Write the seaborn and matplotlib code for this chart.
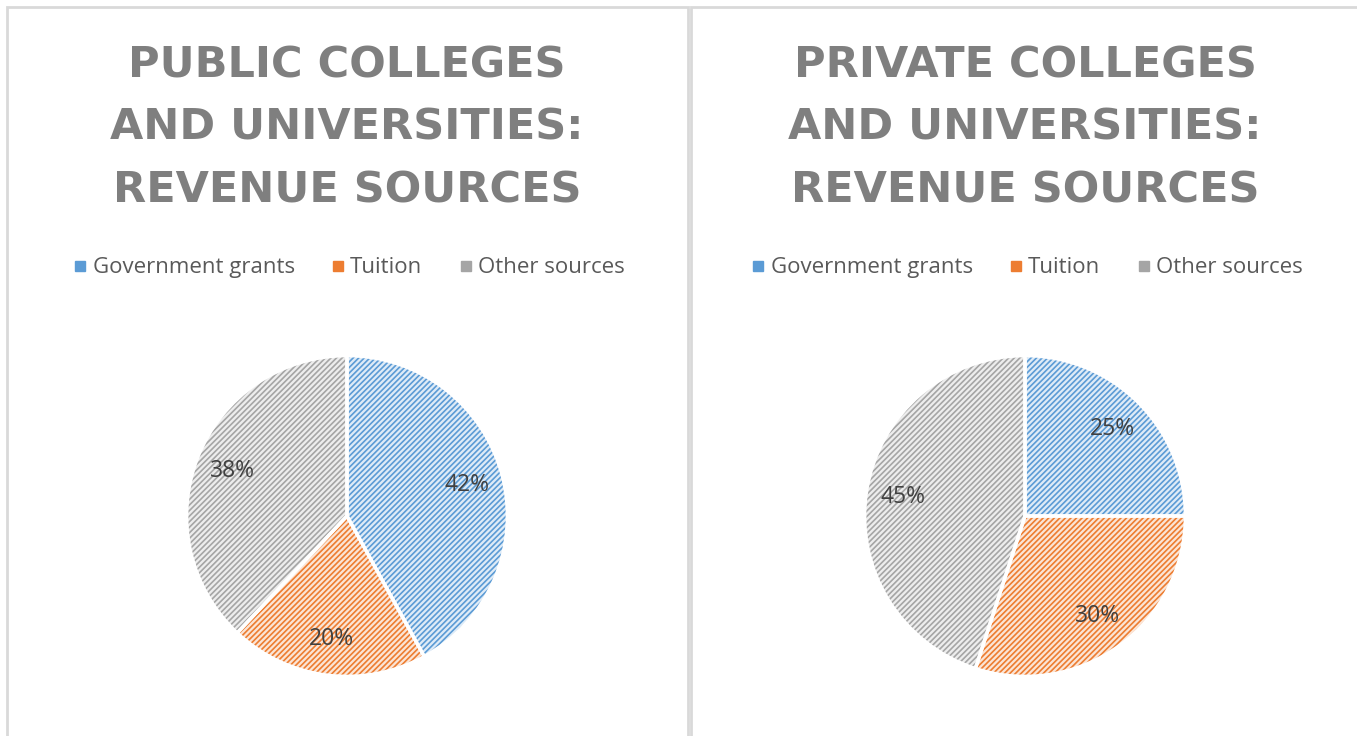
import matplotlib
matplotlib.use("Agg")
import matplotlib.pyplot as plt
import seaborn as sns
from matplotlib.lines import Line2D
from matplotlib.patches import Rectangle
import matplotlib.colors as mcolors

sns.set_style("white")
plt.rcParams['font.family'] = ['Open Sans', 'DejaVu Sans']

categories = ["Government grants", "Tuition", "Other sources"]
public_values = [42, 20, 38]
private_values = [25, 30, 45]
titles = ["PUBLIC COLLEGES\nAND UNIVERSITIES:\nREVENUE SOURCES",
          "PRIVATE COLLEGES\nAND UNIVERSITIES:\nREVENUE SOURCES"]

base_colors = ["#5B9BD5", "#ED7D31", "#A5A5A5"]

def tint(c, f=0.8):
    r, g, b = mcolors.to_rgb(c)
    return (r + (1 - r) * f, g + (1 - g) * f, b + (1 - b) * f)

W, H = 1357, 736
fig = plt.figure(figsize=(W / 100, H / 100), dpi=100)
fig.patch.set_facecolor("white")
plt.rcParams['hatch.linewidth'] = 1.2

# panel borders
border = "#D9D9D9"
fig.patches.append(Rectangle((7 / W, -0.1), (688 - 7) / W, (736 - 7) / H + 0.1,
                             transform=fig.transFigure, fill=False, edgecolor=border, lw=2))
fig.patches.append(Rectangle((691 / W, -0.1), 0.5, (736 - 7) / H + 0.1,
                             transform=fig.transFigure, fill=False, edgecolor=border, lw=2))

centers = [347, 1025]
cy = 516
R = 162
for vals, title, cx in zip([public_values, private_values], titles, centers):
    ax = fig.add_axes([(cx - R) / W, (H - cy - R) / H, 2 * R / W, 2 * R / H])
    wedges, _ = ax.pie(vals, colors=[tint(c) for c in base_colors], startangle=90,
                       counterclock=False, radius=1,
                       wedgeprops=dict(linewidth=0, hatch="//////"))
    for w, c in zip(wedges, base_colors):
        w.set_edgecolor(c)
    ax.pie(vals, colors=["none"] * 3, startangle=90, counterclock=False, radius=1,
           autopct=lambda p: f"{p:.0f}%", pctdistance=0.77,
           textprops=dict(fontsize=16.5, color="#404040"),
           wedgeprops=dict(linewidth=2.5, edgecolor="white", fill=False))
    ax.set_xlim(-1.01, 1.01)
    ax.set_ylim(-1.01, 1.01)
    ax.set_aspect("equal")
    ax.axis("off")

    fig.text(cx / W, (H - 128) / H, title, ha="center", va="center",
             fontsize=31, fontweight="bold", color="#7F7F7F", linespacing=1.63,
             family="DejaVu Sans")

    handles = [Line2D([0], [0], marker="s", linestyle="none", markersize=7,
                      markerfacecolor=c, markeredgecolor=c) for c in base_colors]
    fig.legend(handles, categories, loc="center", bbox_to_anchor=(cx / W, (H - 268) / H),
               ncol=3, frameon=False, fontsize=16, labelcolor="#595959",
               handletextpad=0.05, columnspacing=1.45, handlelength=1.0)

fig.savefig("out.png", dpi=100)
